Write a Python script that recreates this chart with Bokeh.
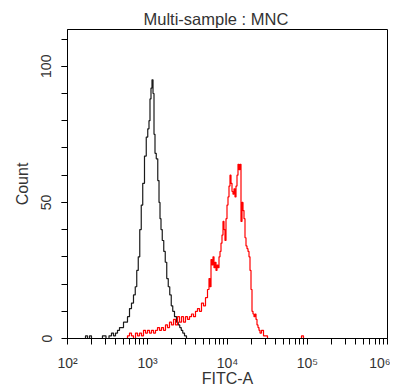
from bokeh.plotting import figure
from bokeh.models import Range1d, FixedTicker
from bokeh.embed import file_html
from bokeh.resources import INLINE

# Negative control (black) histogram: FITC-A intensity vs count
neg_fitc = [163, 173, 183, 194, 205, 258, 290, 316, 345, 365, 387, 410, 434, 460, 487, 516,
            546, 579, 613, 649, 688, 718, 750, 783, 818, 853, 891, 944, 986, 1029, 1059, 1090,
            1122, 1155, 1189, 1223, 1259, 1315, 1373, 1413, 1454, 1496, 1563, 1631, 1703, 1778,
            1857, 1939, 2024, 2113, 2239, 2371, 2476, 2585, 2699, 2818, 2985, 3162]
neg_count = [0, 1, 0, 1, 0, 0, 1, 0, 1, 2, 1, 2, 3, 4, 4, 6,
             6, 8, 11, 13, 16, 19, 25, 30, 40, 49, 57, 67, 74, 77, 80, 88,
             92, 95, 90, 75, 68, 66, 58, 50, 44, 40, 36, 32, 28, 22,
             19, 16, 12, 10, 8, 6, 5, 4, 3, 2, 1, 0]

# Stained sample (red) histogram
pos_fitc = [546, 579, 613, 649, 688, 729, 772, 818, 866, 917, 972, 1029, 1090, 1155, 1223, 1296,
            1373, 1454, 1540, 1631, 1728, 1830, 1939, 2054, 2176, 2304, 2441, 2585, 2738, 2900,
            3072, 3254, 3447, 3652, 3868, 4097, 4340, 4597, 4870, 5158, 5464, 5788,
            5957, 6131, 6310, 6494, 6683, 6879, 7079, 7286, 7499, 7718, 7943, 8175, 8414, 8660,
            8913, 9173, 9441, 9716, 10000, 10292, 10593, 10902, 11220, 11548, 11885, 12232,
            12589, 12957, 13335, 13725, 14125, 14538, 14962, 15399, 15849, 16313, 16788, 17278,
            17783, 18302, 18836, 19387, 19953, 20535, 21135, 21752, 22387, 23041, 23714, 24406,
            25119, 25852, 27384, 29007, 30726, 32546, 81752, 86596, 91728]
pos_count = [0, 1, 2, 1, 0, 2, 1, 2, 1, 3, 2, 3, 2, 3, 2, 3,
             4, 3, 4, 3, 5, 4, 6, 5, 7, 5, 8, 6, 8, 6,
             8, 7, 8, 9, 8, 10, 11, 10, 13, 12, 15, 18,
             22, 19, 29, 27, 30, 26, 28, 25, 27, 26, 30, 32, 35, 38,
             43, 40, 36, 44, 49, 52, 56, 60, 57, 54, 53, 55,
             52, 56, 60, 64, 62, 64, 43, 50, 47, 44, 37, 34,
             33, 32, 30, 25, 18, 10, 9, 8, 9, 7, 5, 4,
             3, 2, 3, 1, 1, 0, 0, 1, 0]

x_ticks = [100, 1000, 10000, 100000, 1000000]
x_tick_labels = ["10²", "10³", "10⁴", "10⁵", "10⁶"]
y_ticks = [0, 50, 100]

FONT = "Liberation Sans"
TXT = "#333333"

p = figure(width=390, height=389, x_axis_type="log",
           x_range=Range1d(100, 1000000), y_range=Range1d(0, 113.5),
           output_backend="svg", toolbar_location=None,
           min_border_left=67, min_border_right=3, min_border_top=29, min_border_bottom=49,
           title="Multi-sample : MNC")

p.title.text_font = FONT
p.title.text_font_size = "16.5px"
p.title.text_font_style = "normal"
p.title.text_color = TXT
p.title.align = "left"
p.title.offset = 76
p.title.standoff = 3

p.outline_line_color = "black"
p.outline_line_width = 1
p.outline_line_alpha = 1
p.background_fill_color = "white"
p.border_fill_color = "white"
p.xgrid.visible = False
p.ygrid.visible = False

minor_x = [m * 10 ** e for e in range(2, 6) for m in range(2, 10)]
p.xaxis.ticker = FixedTicker(ticks=x_ticks, minor_ticks=minor_x)
p.xaxis.major_label_overrides = {t: l for t, l in zip(x_ticks, x_tick_labels)}
p.yaxis.ticker = FixedTicker(ticks=y_ticks, minor_ticks=list(range(10, 120, 10)))
p.yaxis.major_label_orientation = "vertical"

for ax in (p.xaxis[0], p.yaxis[0]):
    ax.axis_line_color = "black"
    ax.major_tick_line_color = "black"
    ax.minor_tick_line_color = "black"
    ax.major_tick_in = 0
    ax.minor_tick_in = 0
    ax.major_tick_out = 6
    ax.minor_tick_out = 6
    ax.major_label_text_font = FONT
    ax.major_label_text_color = TXT
    ax.major_label_text_font_size = "14px"
    ax.axis_label_text_font = FONT
    ax.axis_label_text_color = TXT
    ax.axis_label_text_font_size = "16px"
    ax.axis_label_text_font_style = "normal"

p.xaxis.axis_label = "FITC-A"
p.yaxis.axis_label = "Count"
p.xaxis.major_label_standoff = 10
p.xaxis.axis_label_standoff = -4
p.yaxis.major_label_standoff = 10
p.yaxis.axis_label_standoff = 8

p.step(neg_fitc, neg_count, mode="center", line_color="#1a1a1a", line_width=1.2)
p.step(pos_fitc, pos_count, mode="center", line_color="#ff0000", line_width=1.2)

open("out.html", "w").write(file_html(p, INLINE))
